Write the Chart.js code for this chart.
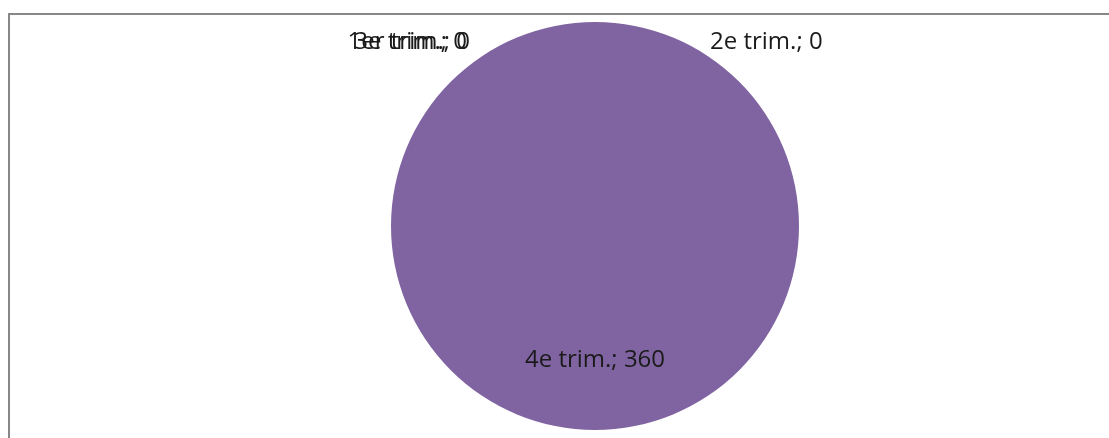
<!DOCTYPE html>
<html>
<head>
<meta charset="utf-8">
<script src="https://cdn.jsdelivr.net/npm/chart.js@4.4.0/dist/chart.umd.min.js"></script>
<style>
  html, body { margin: 0; padding: 0; background: #fff; overflow: hidden; }
  #wrap { position: relative; width: 1109px; height: 438px; }
  #frame {
    position: absolute; left: 8px; top: 13px; width: 1200px; height: 500px;
    border: 2px solid #878787; box-sizing: border-box;
  }
  #c { position: absolute; left: 0; top: 0; }
</style>
</head>
<body>
<div id="wrap">
  <div id="frame"></div>
  <canvas id="c" width="1109" height="438"></canvas>
</div>
<script>
// trimestres et valeurs
const quarters = ['1er trim.', '2e trim.', '3e trim.', '4e trim.'];
const sales = [0, 0, 0, 360];
const sliceColors = ['#4F81BD', '#C0504D', '#9BBB59', '#8064A2'];

const labelFont = '24px "Open Sans", "Noto Sans", sans-serif';

// étiquettes "catégorie; valeur" comme dans Excel
const pieLabels = {
  id: 'pieLabels',
  afterDatasetsDraw(chart) {
    const ctx = chart.ctx;
    const arcs = chart.getDatasetMeta(0).data;
    ctx.save();
    ctx.font = labelFont;
    ctx.fillStyle = '#1a1a1a';
    ctx.textBaseline = 'middle';
    let side = 0;
    arcs.forEach((arc, i) => {
      const text = quarters[i] + '; ' + sales[i];
      const { x, y, outerRadius, startAngle, endAngle } = arc.getProps(
        ['x', 'y', 'outerRadius', 'startAngle', 'endAngle'], true);
      if (sales[i] === 0) {
        // tranches nulles : posées au-dessus, alternées gauche / droite
        const ty = y - outerRadius + 20;
        if (side % 2 === 0) {
          ctx.textAlign = 'right';
          ctx.fillText(text, x - 125 - side * 1.5, ty);
        } else {
          ctx.textAlign = 'left';
          ctx.fillText(text, x + 115, ty);
        }
        side++;
      } else {
        const mid = (startAngle + endAngle) / 2;
        const r = outerRadius * 0.66;
        ctx.textAlign = 'center';
        ctx.fillText(text, x + Math.cos(mid) * r, y + Math.sin(mid) * r);
      }
    });
    ctx.restore();
  }
};

new Chart(document.getElementById('c'), {
  type: 'pie',
  data: {
    labels: quarters,
    datasets: [{
      data: sales,
      backgroundColor: sliceColors,
      borderWidth: 0
    }]
  },
  options: {
    responsive: false,
    animation: false,
    layout: { padding: { left: 81, right: 0, top: 22, bottom: 8 } },
    plugins: {
      legend: { display: false },
      tooltip: { enabled: false }
    }
  },
  plugins: [pieLabels]
});
</script>
</body>
</html>
